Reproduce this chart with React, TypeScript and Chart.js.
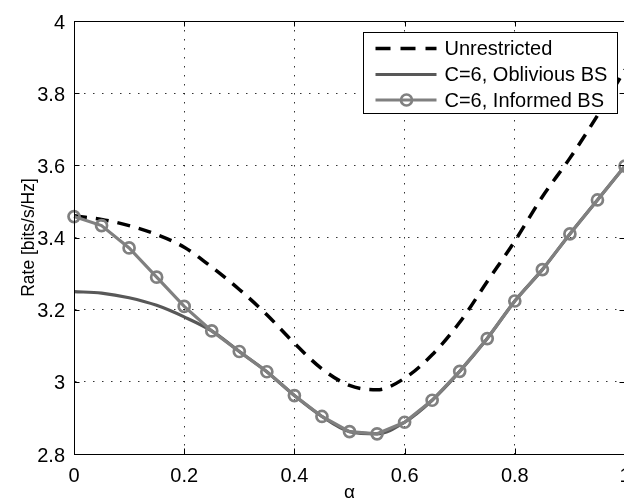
import React, { useEffect, useRef } from 'react';
import { Chart, registerables } from 'chart.js';

Chart.register(...registerables);

// ---- data ----
const alpha = [0, 0.05, 0.1, 0.15, 0.2, 0.25, 0.3, 0.35, 0.4, 0.45, 0.5, 0.55, 0.6, 0.65, 0.7, 0.75, 0.8, 0.85, 0.9, 0.95, 1];
const unrestricted = [3.46, 3.45, 3.433, 3.408, 3.373, 3.318, 3.256, 3.186, 3.107, 3.036, 2.99, 2.978, 3.01, 3.075, 3.165, 3.278, 3.39, 3.513, 3.62, 3.738, 3.865];
const oblivious = [3.25, 3.246, 3.233, 3.212, 3.18, 3.141, 3.084, 3.028, 2.962, 2.904, 2.862, 2.856, 2.888, 2.949, 3.029, 3.12, 3.224, 3.311, 3.41, 3.504, 3.598];
const informed = [3.458, 3.433, 3.371, 3.29, 3.209, 3.141, 3.084, 3.028, 2.962, 2.904, 2.862, 2.856, 2.888, 2.949, 3.029, 3.12, 3.224, 3.311, 3.41, 3.504, 3.598];
const xTicks = [0, 0.2, 0.4, 0.6, 0.8, 1];
const yTicks = [2.8, 3, 3.2, 3.4, 3.6, 3.8, 4];
const seriesNames = ['Unrestricted', 'C=6, Oblivious BS', 'C=6, Informed BS'];
const xLabel = 'α';
const yLabel = 'Rate [bits/s/Hz]';

const FONT = '"Liberation Sans", Arial, Helvetica, sans-serif';

const framePlugin = {
  id: 'matlabFrame',
  afterDatasetsDraw(chart: any) {
    const { ctx, chartArea: ca, scales } = chart;
    const xs = scales.x;
    const ys = scales.y;
    ctx.save();
    // frame
    ctx.strokeStyle = '#000';
    ctx.lineWidth = 1;
    ctx.setLineDash([]);
    ctx.strokeRect(Math.round(ca.left) + 0.5, Math.round(ca.top) + 0.5, Math.round(ca.right - ca.left), Math.round(ca.bottom - ca.top));
    // inner ticks
    const tl = 5.5;
    ctx.beginPath();
    xTicks.forEach((v) => {
      const px = Math.round(xs.getPixelForValue(v)) + 0.5;
      ctx.moveTo(px, ca.bottom);
      ctx.lineTo(px, ca.bottom - tl);
      ctx.moveTo(px, ca.top);
      ctx.lineTo(px, ca.top + tl);
    });
    yTicks.forEach((v) => {
      const py = Math.round(ys.getPixelForValue(v)) + 0.5;
      ctx.moveTo(ca.left, py);
      ctx.lineTo(ca.left + tl, py);
      ctx.moveTo(ca.right, py);
      ctx.lineTo(ca.right - tl, py);
    });
    ctx.stroke();

    // legend
    const x0 = Math.round(ca.right - 262) + 0.5;
    const x1 = Math.round(ca.right - 8) + 0.5;
    const y0 = Math.round(ca.top + 11) + 0.5;
    const y1 = Math.round(ca.top + 92) + 0.5;
    ctx.fillStyle = '#fff';
    ctx.fillRect(x0, y0, x1 - x0, y1 - y0);
    ctx.strokeStyle = '#000';
    ctx.lineWidth = 1;
    ctx.strokeRect(x0, y0, x1 - x0, y1 - y0);
    const rows = [16, 42, 67.5];
    chart.data.datasets.forEach((ds: any, i: number) => {
      const ry = y0 + rows[i];
      ctx.save();
      ctx.strokeStyle = ds.borderColor;
      ctx.lineWidth = ds.borderWidth;
      ctx.setLineDash(i === 0 ? [15, 10] : []);
      ctx.beginPath();
      ctx.moveTo(x0 + 12, ry);
      ctx.lineTo(x0 + 73, ry);
      ctx.stroke();
      if (ds.pointRadius > 0) {
        ctx.setLineDash([]);
        ctx.lineWidth = ds.pointBorderWidth;
        ctx.strokeStyle = ds.pointBorderColor;
        ctx.beginPath();
        ctx.arc(x0 + 43, ry, ds.pointRadius, 0, Math.PI * 2);
        ctx.stroke();
      }
      ctx.restore();
      ctx.fillStyle = '#000';
      ctx.font = `20px ${FONT}`;
      ctx.textBaseline = 'middle';
      ctx.textAlign = 'left';
      ctx.fillText(ds.label, x0 + 81, ry + 1);
    });
    ctx.restore();
  },
};

export default function App() {
  const ref = useRef<HTMLCanvasElement | null>(null);

  useEffect(() => {
    const canvas = ref.current;
    if (!canvas) return;
    const pts = (arr: number[]) => alpha.map((x, i) => ({ x, y: arr[i] }));
    const gridCommon = {
      color: 'rgba(0,0,0,0.8)',
      lineWidth: 1,
      drawTicks: false,
    };
    const chart = new Chart(canvas, {
      type: 'line',
      data: {
        datasets: [
          {
            label: seriesNames[0],
            data: pts(unrestricted),
            borderColor: '#000000',
            borderWidth: 3.5,
            borderDash: [13, 9],
            pointRadius: 0,
            cubicInterpolationMode: 'monotone',
            fill: false,
            order: 2,
          },
          {
            label: seriesNames[1],
            data: pts(oblivious),
            borderColor: '#585858',
            borderWidth: 3.2,
            pointRadius: 0,
            cubicInterpolationMode: 'monotone',
            fill: false,
            order: 1,
          },
          {
            label: seriesNames[2],
            data: pts(informed),
            borderColor: '#808080',
            borderWidth: 3.2,
            pointRadius: 5.5,
            pointBorderWidth: 2.7,
            pointBorderColor: '#808080',
            pointBackgroundColor: 'rgba(0,0,0,0)',
            tension: 0,
            fill: false,
            clip: false,
            order: 0,
          },
        ] as any,
      },
      options: {
        responsive: false,
        animation: false,
        devicePixelRatio: 1,
        layout: { padding: { left: 0, top: 18, right: 34, bottom: 0 } },
        plugins: { legend: { display: false }, tooltip: { enabled: false } },
        scales: {
          x: {
            type: 'linear',
            min: 0,
            max: 1,
            afterBuildTicks: (s: any) => {
              s.ticks = xTicks.map((v) => ({ value: v }));
            },
            afterFit: (s: any) => {
              s.height = 48;
            },
            grid: gridCommon,
            border: { display: true, color: '#000', width: 1, dash: [1.5, 7.5] },
            ticks: {
              padding: 10,
              color: '#000',
              maxRotation: 0,
              autoSkip: false,
              font: { family: FONT, size: 20 },
              callback: (v: any) => String(v),
            },
            title: {
              display: true,
              text: xLabel,
              color: '#000',
              font: { family: FONT, size: 19, lineHeight: 1 },
              padding: { top: 0, bottom: 0 },
            },
          },
          y: {
            type: 'linear',
            min: 2.8,
            max: 4,
            afterBuildTicks: (s: any) => {
              s.ticks = yTicks.map((v) => ({ value: v }));
            },
            afterFit: (s: any) => {
              s.width = 74;
            },
            grid: gridCommon,
            border: { display: true, color: '#000', width: 1, dash: [1.5, 7.5] },
            ticks: {
              padding: 9,
              color: '#000',
              labelOffset: 2,
              autoSkip: false,
              font: { family: FONT, size: 20 },
              callback: (v: any) => String(v),
            },
            title: {
              display: true,
              text: yLabel,
              color: '#000',
              font: { family: FONT, size: 17.5, lineHeight: 1 },
              padding: { top: 20, bottom: 0 },
            },
          },
        },
      } as any,
      plugins: [framePlugin],
    });
    return () => chart.destroy();
  }, []);

  return (
    <div
      style={{
        position: 'fixed',
        left: 0,
        top: 0,
        width: 624,
        height: 502,
        overflow: 'hidden',
        background: '#fff',
      }}
    >
      <canvas ref={ref} width={659} height={502} style={{ display: 'block' }} />
    </div>
  );
}
